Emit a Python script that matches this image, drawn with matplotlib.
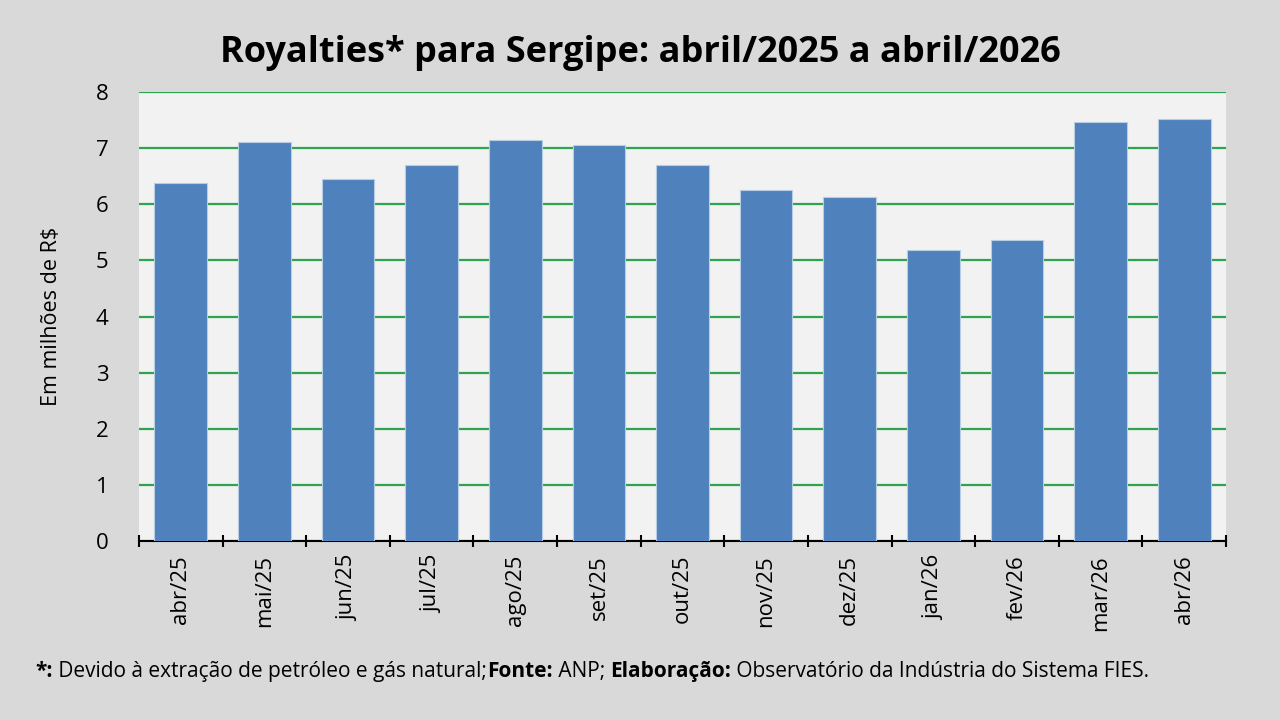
import matplotlib
matplotlib.use("Agg")
import matplotlib.pyplot as plt
import numpy as np
from matplotlib.offsetbox import TextArea, HPacker, AnchoredOffsetbox

plt.rcParams['font.family'] = ['Open Sans', 'DejaVu Sans']

categories = ["abr/25", "mai/25", "jun/25", "jul/25", "ago/25", "set/25", "out/25",
              "nov/25", "dez/25", "jan/26", "fev/26", "mar/26", "abr/26"]
values = [6.38, 7.12, 6.45, 6.71, 7.14, 7.06, 6.71, 6.26, 6.14, 5.18, 5.36, 7.47, 7.53]
yticks = [0, 1, 2, 3, 4, 5, 6, 7, 8]

fig = plt.figure(figsize=(12.8, 7.2), dpi=100, facecolor="#d9d9d9")
ax = fig.add_axes([0.1086, 0.2486, 0.8492, 0.6234])
ax.set_facecolor("#f2f2f2")

x = np.arange(len(categories))
ax.bar(x, values, width=0.63, color="#4f81bd", edgecolor="#b8cce4", linewidth=0.8, zorder=3)

ax.set_xlim(-0.5, len(categories) - 0.5)
ax.set_ylim(0, 8)
ax.set_yticks(yticks)
ax.yaxis.grid(True, color="#2ea44f", linewidth=1.6, zorder=1)
ax.set_axisbelow(True)
ax.tick_params(axis="y", length=0, labelsize=16, pad=22, colors="#000000")

ax.set_xticks(x)
ax.set_xticklabels(categories, rotation=90, fontsize=16)
ax.set_xticks(np.arange(-0.5, len(categories), 1.0), minor=True)
ax.tick_params(axis="x", which="major", length=0, pad=10)
ax.tick_params(axis="x", which="minor", length=8, width=1.5, direction="inout", color="black")

for s in ["top", "right", "left"]:
    ax.spines[s].set_visible(False)
ax.spines["bottom"].set_color("black")
ax.spines["bottom"].set_linewidth(1.5)

ax.set_ylabel("Em milhões de R$", fontsize=15.5, labelpad=24)

fig.text(0.5, 0.927, "Royalties* para Sergipe: abril/2025 a abril/2026",
         ha="center", va="center", fontsize=26, fontweight="bold")

parts = [("*:", "bold"), (" Devido à extração de petróleo e gás natural;", "normal"),
         ("Fonte:", "bold"), (" ANP; ", "normal"), ("Elaboração:", "bold"),
         (" Observatório da Indústria do Sistema FIES.", "normal")]
boxes = [TextArea(t, textprops=dict(fontsize=15, fontweight=w)) for t, w in parts]
pack = HPacker(children=boxes, align="baseline", pad=0, sep=0)
anch = AnchoredOffsetbox(loc="center left", child=pack, frameon=False,
                         bbox_to_anchor=(0.028, 0.067), bbox_transform=fig.transFigure,
                         pad=0, borderpad=0)
fig.add_artist(anch)

fig.savefig("out.png", dpi=100, facecolor=fig.get_facecolor())
